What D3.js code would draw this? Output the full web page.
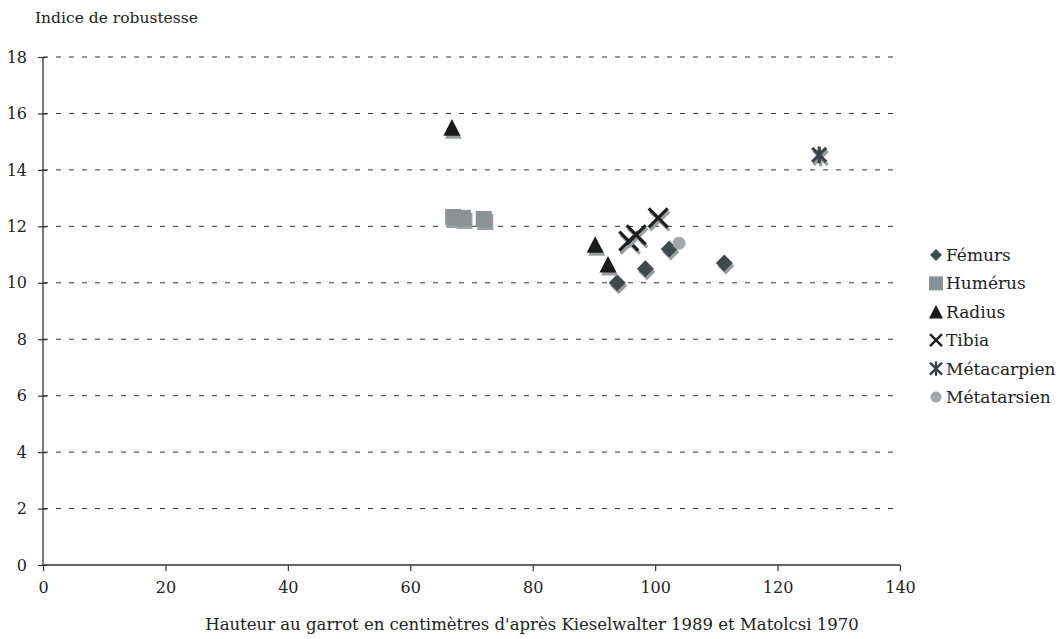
<!DOCTYPE html>
<html>
<head>
<meta charset="utf-8">
<script src="https://cdn.jsdelivr.net/npm/d3@7"></script>
<style>
  body { margin: 0; background: #fff; }
</style>
</head>
<body>
<svg></svg>
<script>
// values
const seriesNames = ["Fémurs", "Humérus", "Radius", "Tibia", "Métacarpien", "Métatarsien"];
const femursX = [93.8, 98.4, 102.3, 111.3];
const femursY = [10.0, 10.5, 11.2, 10.7];
const humerusX = [67.0, 68.6, 72.0];
const humerusY = [12.33, 12.3, 12.26];
const radiusX = [66.8, 90.2, 92.3];
const radiusY = [15.5, 11.35, 10.65];
const tibiaX = [95.7, 96.9, 100.5];
const tibiaY = [11.48, 11.7, 12.3];
const metacarpX = [126.8];
const metacarpY = [14.53];
const metatarsX = [103.9];
const metatarsY = [11.4];
const xTicks = [0, 20, 40, 60, 80, 100, 120, 140];
const yTicks = [0, 2, 4, 6, 8, 10, 12, 14, 16, 18];

const svgWidth = 1062;
const svgHeight = 639;
const serif = "'DejaVu Serif', serif";

const svg = d3.select("svg")
  .attr("width", svgWidth)
  .attr("height", svgHeight);

const xScale = d3.scaleLinear().domain([0, 140]).range([43, 900]);
const yScale = d3.scaleLinear().domain([0, 18]).range([565, 57]);

// dashed gridlines
svg.append("g")
  .selectAll("line")
  .data(yTicks.filter(d => d > 0))
  .enter()
  .append("line")
  .attr("x1", xScale(0))
  .attr("x2", xScale(140))
  .attr("y1", d => yScale(d))
  .attr("y2", d => yScale(d))
  .attr("stroke", "#333")
  .attr("stroke-width", 1)
  .attr("stroke-dasharray", "5,8");

const x_axis = d3.axisBottom(xScale).tickValues(xTicks).tickSize(6).tickPadding(11);
const y_axis = d3.axisLeft(yScale).tickValues(yTicks).tickSize(5).tickPadding(11);

const gx = svg.append("g")
  .attr("transform", "translate(0," + yScale(0) + ")")
  .call(x_axis);
const gy = svg.append("g")
  .attr("transform", "translate(" + xScale(0) + ",0)")
  .call(y_axis);

[gx, gy].forEach(g => {
  g.attr("font-family", serif).attr("font-size", 16);
  g.select(".domain").attr("stroke", "#333").attr("stroke-width", 1.3);
  g.selectAll(".tick line").attr("stroke", "#333").attr("stroke-width", 1.2);
  g.selectAll(".tick text").attr("fill", "#222");
});
gx.select(".domain").attr("d", "M" + xScale(0) + ",0H" + xScale(140));
gy.select(".domain").attr("d", "M0," + yScale(0) + "V" + yScale(18));
// y ticks cross the axis a little
gy.selectAll(".tick line").attr("x1", 4);

svg.append("text")
  .attr("x", 35)
  .attr("y", 23)
  .attr("font-family", serif)
  .attr("font-size", 15.5)
  .attr("fill", "#222")
  .text("Indice de robustesse");

svg.append("text")
  .attr("x", 532)
  .attr("y", 630)
  .attr("text-anchor", "middle")
  .attr("font-family", serif)
  .attr("font-size", 16.5)
  .attr("fill", "#222")
  .text("Hauteur au garrot en centimètres d'après Kieselwalter 1989 et Matolcsi 1970");

// marker shapes
function shape(kind, s) {
  const h = s / 2;
  switch (kind) {
    case "diamond": return `M0,${-h}L${h},0L0,${h}L${-h},0Z`;
    case "square": return `M${-h},${-h}H${h}V${h}H${-h}Z`;
    case "triangle": return `M0,${-h}L${h},${h * 0.95}L${-h},${h * 0.95}Z`;
    case "cross": return `M${-h},${-h}L${h},${h}M${h},${-h}L${-h},${h}`;
    case "star": return `M${-h},${-h}L${h},${h}M${h},${-h}L${-h},${h}M0,${-h * 1.2}V${h * 1.2}`;
    case "circle": return d3.symbol(d3.symbolCircle, Math.PI * h * h)();
  }
}

const series = [
  { name: seriesNames[0], xs: femursX, ys: femursY, kind: "diamond", size: 17, color: "#3e4a4c", stroke: false },
  { name: seriesNames[1], xs: humerusX, ys: humerusY, kind: "square", size: 16, color: "#8a9296", stroke: false },
  { name: seriesNames[2], xs: radiusX, ys: radiusY, kind: "triangle", size: 17, color: "#1a1a1a", stroke: false },
  { name: seriesNames[3], xs: tibiaX, ys: tibiaY, kind: "cross", size: 19, color: "#1e1e1e", stroke: true },
  { name: seriesNames[4], xs: metacarpX, ys: metacarpY, kind: "star", size: 14, color: "#3b4446", stroke: true },
  { name: seriesNames[5], xs: metatarsX, ys: metatarsY, kind: "circle", size: 13, color: "#a2a6aa", stroke: false }
];

function drawMark(g, s, size, shadow) {
  const p = g.append("path").attr("d", shape(s.kind, size));
  const c = shadow ? "#9a9c9e" : s.color;
  if (s.stroke) {
    p.attr("fill", "none").attr("stroke", c).attr("stroke-width", 3.2);
  } else {
    p.attr("fill", c);
  }
}

const marks = svg.append("g");
series.forEach(s => {
  s.xs.forEach((xv, i) => {
    const cx = xScale(xv), cy = yScale(s.ys[i]);
    if (s.kind !== "circle") {
      drawMark(marks.append("g").attr("transform", `translate(${cx + 1.5},${cy + 3})`), s, s.size, true);
    }
    drawMark(marks.append("g").attr("transform", `translate(${cx},${cy})`), s, s.size, false);
  });
});

// legend
const legend = svg.append("g");
const legendSizes = [12, 14, 14, 12, 12, 11];
series.forEach((s, i) => {
  const ly = 255 + i * 28.4;
  const g = legend.append("g").attr("transform", `translate(936,${ly})`);
  drawMark(g, s, legendSizes[i], false);
  if (s.stroke) g.select("path").attr("stroke-width", 2.4);
  legend.append("text")
    .attr("x", 946)
    .attr("y", ly + 6)
    .attr("font-family", serif)
    .attr("font-size", 17)
    .attr("fill", "#222")
    .text(s.name);
});
</script>
</body>
</html>
